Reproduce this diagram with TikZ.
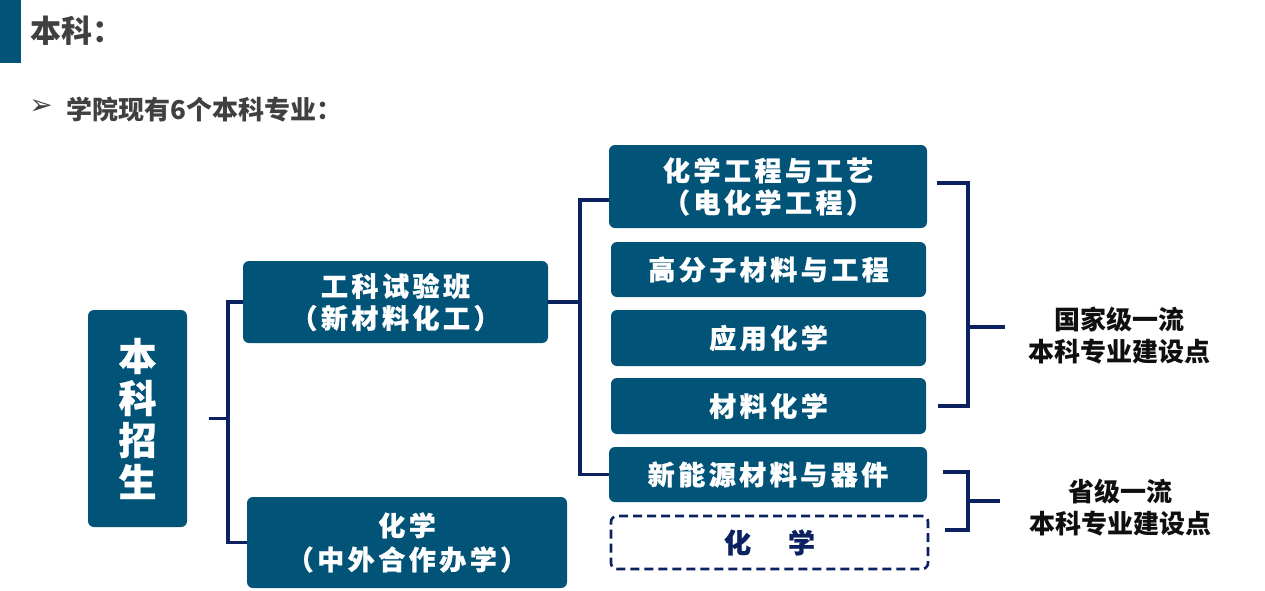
\documentclass[tikz,border=0pt]{standalone}
\usepackage{fontspec}
\setmainfont{Noto Sans CJK SC}
\newfontfamily\boxfont{Noto Sans CJK SC}[LetterSpace=13, BoldFeatures={FakeBold=0.8}]
\newfontfamily\symfont{DejaVu Sans}
\definecolor{boxblue}{RGB}{2,83,120}
\definecolor{navy}{RGB}{12,34,96}
\definecolor{titlegray}{RGB}{64,64,64}
\definecolor{darktext}{RGB}{15,15,15}
\begin{document}
\begin{tikzpicture}[x=1pt,y=-1pt,
  box/.style={fill=boxblue, rounded corners=6pt, text=white, align=center, inner sep=0pt,
    font={\boxfont\bfseries\fontsize{27}{32}\selectfont}},
  dbox/.style={draw=navy, line width=2.6pt, dash pattern=on 9pt off 5pt, rounded corners=6pt,
    text=navy, align=center, inner sep=0pt, font={\boxfont\bfseries\fontsize{27}{32}\selectfont}},
  conn/.style={draw=navy, line width=3.2pt},
  side/.style={text=darktext, align=center, inner sep=0pt, font={\bfseries\fontsize{26}{32}\selectfont}}]
\useasboundingbox (0,0) rectangle (1265,590);
% header
\fill[boxblue] (0,0) rectangle (21,63);
\node[anchor=west, inner sep=0pt, text=titlegray, font={\bfseries\fontsize{31}{36}\selectfont}] (title) at (30,31) {本科：};
\node[inner sep=0pt, text=titlegray, font={\symfont\fontsize{28}{30}\selectfont}] (bullet) at (41,107) {➢};
\node[anchor=west, inner sep=0pt, text=titlegray, font={\bfseries\fontsize{26}{30}\selectfont}] (sub) at (66,110) {学院现有6个本科专业：};
% left
\node[box, minimum width=99pt, minimum height=217pt, font={\boxfont\bfseries\fontsize{38}{42}\selectfont}] (zk) at (137.5,418.5) {本\\科\\招\\生};
\node[box, minimum width=305pt, minimum height=82pt] (gk) at (395.5,302) {工科试验班\\（新材料化工）};
\node[box, minimum width=320pt, minimum height=91pt, font={\boxfont\bfseries\fontsize{27}{34}\selectfont}] (hx) at (407,542.5) {化学\\（中外合作办学）};
% right column
\node[box, minimum width=318pt, minimum height=83pt] (r1) at (768,186.5) {化学工程与工艺\\（电化学工程）};
\node[box, minimum width=315pt, minimum height=55pt] (r2) at (768.5,269.5) {高分子材料与工程};
\node[box, minimum width=315pt, minimum height=56pt] (r3) at (768.5,338) {应用化学};
\node[box, minimum width=315pt, minimum height=56pt] (r4) at (768.5,406) {材料化学};
\node[box, minimum width=318pt, minimum height=55pt] (r5) at (768,474.5) {新能源材料与器件};
\node[dbox, minimum width=317pt, minimum height=53pt] (r6) at (769.5,542.5) {化\hspace{37pt}学};
% side texts
\node[side] (t1) at (1119,336) {国家级一流\\本科专业建设点};
\node[side] (t2) at (1120,507.5) {省级一流\\本科专业建设点};
% connectors
\coordinate (za) at ([xshift=22pt]zk.east);
\coordinate (ja) at (228,418.5);
\draw[conn] (za) -- (ja);
\draw[conn] (gk.west) -| (ja) |- (hx.west);
\coordinate (jb) at (580,302);
\draw[conn] (gk.east) -- (jb);
\draw[conn] ([yshift=-13.5pt]r1.west) -| (jb) |- (r5.west);
\coordinate (c1) at ([shift={(10pt,3.5pt)}]r1.east);
\coordinate (c2) at ([xshift=12pt]r4.east);
\coordinate (jc) at (968,327);
\coordinate (ce) at (1005,327);
\draw[conn] (c1) -| (jc) |- (c2);
\draw[conn] (jc) -- (ce);
\coordinate (d1) at ([shift={(16pt,2.5pt)}]r5.east);
\coordinate (d2) at ([shift={(16pt,12.5pt)}]r6.east);
\coordinate (jd) at (968,501);
\coordinate (de) at (1000,501);
\draw[conn] (d1) -| (jd) |- (d2);
\draw[conn] (jd) -- (de);
\end{tikzpicture}
\end{document}
